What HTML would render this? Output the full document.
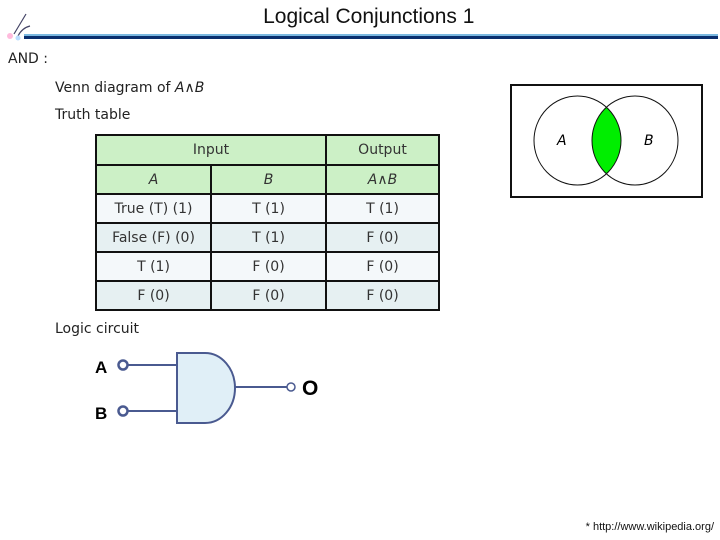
<!DOCTYPE html>
<html><head><style>
body{margin:0;width:720px;height:540px;background:#fff;position:relative;overflow:hidden;font-family:"DejaVu Sans",sans-serif;color:#222}
.t{position:absolute;font-size:14px;white-space:nowrap}
table{position:absolute;left:95px;top:134px;border-collapse:collapse;font-size:14px;color:#333}
td{border:2px solid #111;text-align:center;padding:0;height:27px}
.h{background:#ccf0c6}
.r1{background:#f4f8fa}.r2{background:#e6f0f2}
</style></head><body>
<div style="position:absolute;left:0;top:5px;width:720px;text-align:center;font-family:'Liberation Sans',sans-serif;font-size:21px;color:#111">&nbsp;&nbsp;&nbsp;Logical Conjunctions 1</div>
<svg style="position:absolute;left:0;top:0" width="720" height="60">
<path d="M14 34 Q20 24 26 14 M18 36 Q22 28 30 26" stroke="#446" stroke-width="1.2" fill="none"/>
<circle cx="10" cy="36" r="3" fill="#fbd"/><circle cx="18" cy="38" r="2.5" fill="#bdf"/>
<rect x="24" y="34" width="694" height="2" fill="#7ab8e0"/>
<rect x="24" y="36" width="694" height="3" fill="#0a2f6e"/>
</svg>
<div class="t" style="left:8px;top:51px">AND :</div>
<div class="t" style="left:55px;top:80px">Venn diagram of <i>A</i>∧<i>B</i></div>
<div class="t" style="left:55px;top:107px">Truth table</div>
<div class="t" style="left:55px;top:321px">Logic circuit</div>
<table>
<tr class="h"><td colspan="2" style="height:28px">Input</td><td style="width:111px">Output</td></tr>
<tr class="h"><td style="width:113px"><i>A</i></td><td style="width:113px"><i>B</i></td><td><i>A</i>∧<i>B</i></td></tr>
<tr class="r1"><td>True (T) (1)</td><td>T (1)</td><td>T (1)</td></tr>
<tr class="r2"><td>False (F) (0)</td><td>T (1)</td><td>F (0)</td></tr>
<tr class="r1"><td>T (1)</td><td>F (0)</td><td>F (0)</td></tr>
<tr class="r2"><td>F (0)</td><td>F (0)</td><td>F (0)</td></tr>
</table>
<svg style="position:absolute;left:0;top:0" width="720" height="540">
<rect x="511" y="85" width="191" height="112" fill="#fff" stroke="#111" stroke-width="2"/>
<defs><clipPath id="c"><ellipse cx="577.5" cy="140.5" rx="43.5" ry="44.5"/></clipPath></defs>
<ellipse cx="635" cy="140.5" rx="43" ry="44.5" fill="#0e0" clip-path="url(#c)"/>
<ellipse cx="577.5" cy="140.5" rx="43.5" ry="44.5" fill="none" stroke="#111" stroke-width="1"/>
<ellipse cx="635" cy="140.5" rx="43" ry="44.5" fill="none" stroke="#111" stroke-width="1"/>
<text x="557" y="145" font-size="14" font-style="italic" font-family="DejaVu Sans">A</text>
<text x="644" y="145" font-size="14" font-style="italic" font-family="DejaVu Sans">B</text>
<g stroke="#4a5a90" stroke-width="2" fill="none">
<line x1="127" y1="365" x2="177" y2="365"/><line x1="127" y1="411" x2="177" y2="411"/>
<line x1="233" y1="387" x2="287" y2="387"/>
<path d="M177 353 H205 A30 35 0 0 1 205 423 H177 Z" fill="#e0eff7"/>
<circle cx="123" cy="365" r="4.5" fill="#fff" stroke-width="2.5"/>
<circle cx="123" cy="411" r="4.5" fill="#fff" stroke-width="2.5"/>
<circle cx="291" cy="387" r="4" fill="#fff" stroke-width="1.5"/>
</g>
<text x="95" y="373" font-size="17" font-weight="bold" font-family="Liberation Sans">A</text>
<text x="95" y="419" font-size="17" font-weight="bold" font-family="Liberation Sans">B</text>
<text x="302" y="395" font-size="21" font-weight="bold" font-family="Liberation Sans">O</text>
</svg>
<div style="position:absolute;right:6px;top:521px;font-family:'Liberation Sans',sans-serif;font-size:11px;color:#111">* http://www.wikipedia.org/</div>
</body></html>
